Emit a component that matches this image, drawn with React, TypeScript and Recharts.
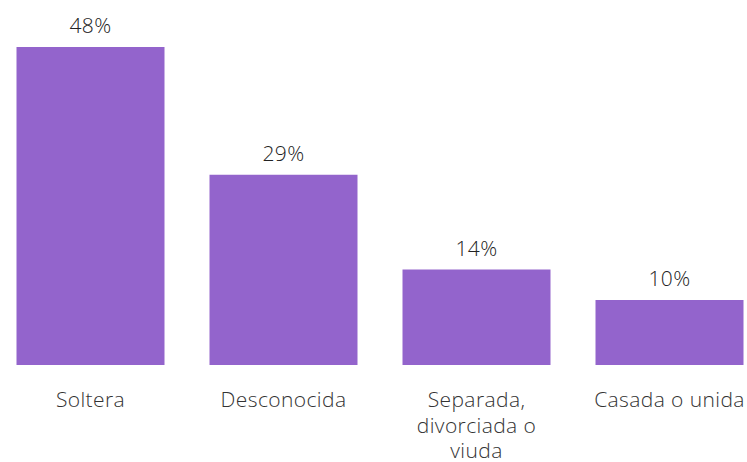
import { BarChart, Bar, XAxis, YAxis, LabelList } from "recharts";

const categories = ["Soltera", "Desconocida", "Separada,\ndivorciada o\nviuda", "Casada o unida"];
const shares = [48, 28.7, 14.4, 9.8];

const data = categories.map((name, i) => ({ name, value: shares[i] }));

const FONT = "'Open Sans', Lato, sans-serif";

function CategoryTick({ x, y, payload }: any) {
  const lines = String(payload.value).split("\n");
  return (
    <text
      x={x}
      y={y}
      textAnchor="middle"
      fill="#333"
      fontSize={21}
      fontWeight={300}
      letterSpacing={0.4}
      fontFamily={FONT}
    >
      {lines.map((line, i) => (
        <tspan key={i} x={x} dy={i === 0 ? 34 : 25.5}>
          {line}
        </tspan>
      ))}
    </text>
  );
}

export default function App() {
  return (
    <div
      style={{
        position: "fixed",
        left: 0,
        top: 0,
        width: 747,
        height: 462,
        overflow: "hidden",
        background: "#fff",
      }}
    >
      <div style={{ marginLeft: -6.5 }}>
        <BarChart
          width={772}
          height={462}
          data={data}
          margin={{ top: 47, right: 0, bottom: 7, left: 0 }}
          barCategoryGap={22.5}
        >
          <XAxis
            dataKey="name"
            axisLine={false}
            tickLine={false}
            interval={0}
            height={90}
            tick={<CategoryTick />}
          />
          <YAxis hide domain={[0, "dataMax"]} />
          <Bar dataKey="value" fill="#9364CC" isAnimationActive={false}>
            <LabelList
              dataKey="value"
              position="top"
              offset={14}
              formatter={(v: any) => `${Math.round(Number(v))}%`}
              style={{ fill: "#222", fontSize: 21, fontWeight: 300, letterSpacing: 0.4, fontFamily: FONT }}
            />
          </Bar>
        </BarChart>
      </div>
    </div>
  );
}
